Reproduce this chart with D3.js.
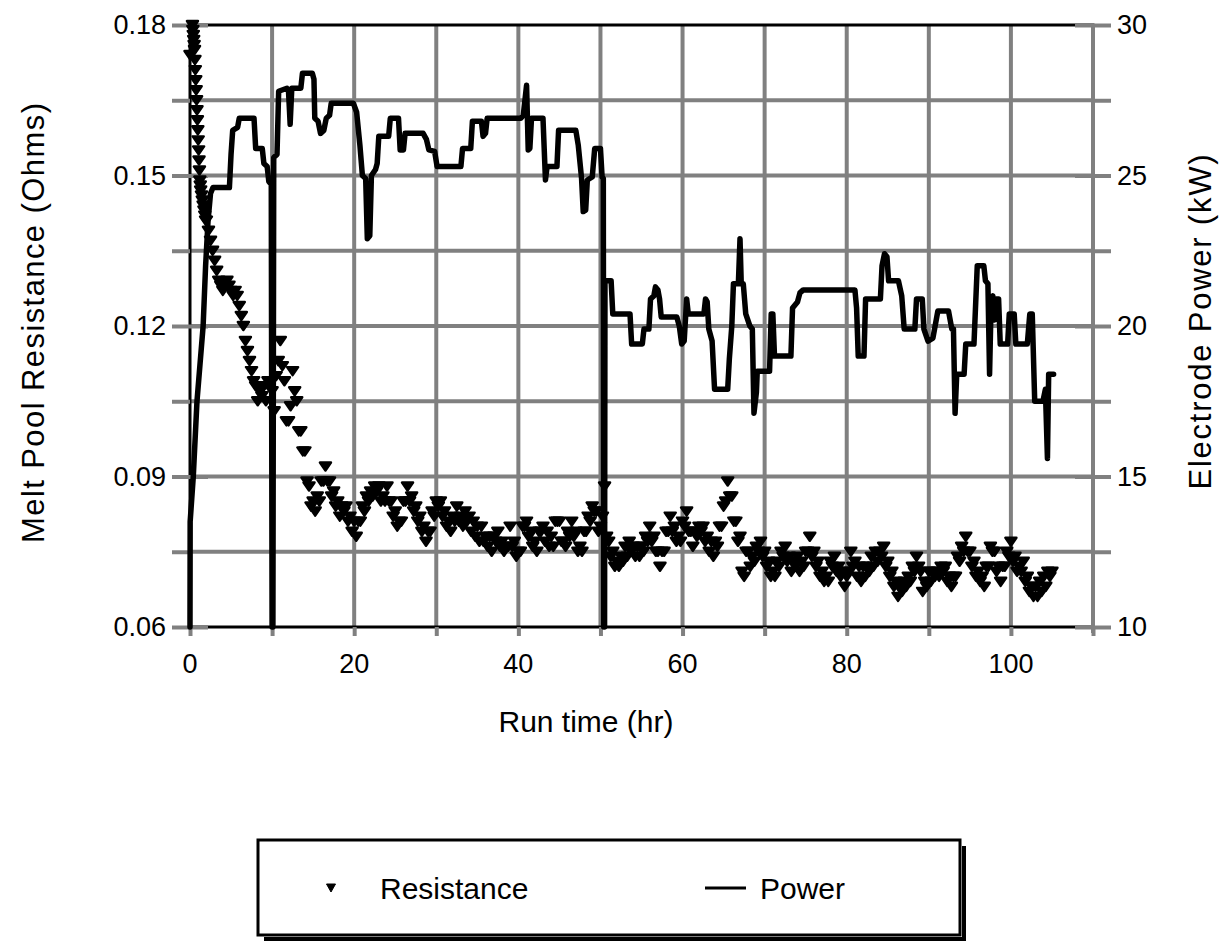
<!DOCTYPE html>
<html>
<head>
<meta charset="utf-8">
<script src="https://cdn.jsdelivr.net/npm/d3@7"></script>
<style>
  body { margin: 0; background: #fff; }
  svg text { font-family: "Liberation Sans", Arial, sans-serif; fill: #000; }
</style>
</head>
<body>
<svg id="chart" width="1229" height="941"></svg>
<script>
// ---- Melt pool resistance (Ohms) ----
// start-up readings, irregular times (hr)
const startupHours = [0, 0.3, 0.35, 0.4, 0.45, 0.5, 0.55, 0.6, 0.65, 0.7, 0.75, 0.8, 0.85, 0.9,
  0.95, 1.0, 1.05, 1.1, 1.15, 1.2, 1.25, 1.3, 1.4, 1.5, 1.6, 1.7, 1.8, 1.9];
const startupResistance = [0.174, 0.180, 0.179, 0.178, 0.177, 0.176, 0.175, 0.173, 0.171, 0.169,
  0.167, 0.165, 0.163, 0.161, 0.159, 0.157, 0.155, 0.153, 0.151, 0.149, 0.148, 0.147, 0.146,
  0.145, 0.144, 0.143, 0.142, 0.141];

// logged every 15 minutes from hour 2 onward (four readings per hour)
const resistanceStartHour = 2;
const resistanceStepHours = 0.25;
const resistance = [
  0.141, 0.139, 0.137, 0.135,  0.133, 0.131, 0.129, 0.128,  0.127, 0.128, 0.129, 0.128,   // 2-4
  0.127, 0.126, 0.127, 0.126,  0.124, 0.122, 0.120, 0.117,  0.115, 0.113, 0.111, 0.109,   // 5-7
  0.108, 0.105, 0.107, 0.106,  0.108, 0.105, 0.109, 0.109,  0.107, 0.103, 0.110, 0.113,   // 8-10
  0.117, 0.112, 0.109, 0.101,  0.101, 0.104, 0.111, 0.107,  0.105, 0.099, 0.099, 0.095,   // 11-13
  0.095, 0.089, 0.088, 0.084,  0.085, 0.083, 0.086, 0.085,  0.089, 0.089, 0.092, 0.089,   // 14-16
  0.089, 0.086, 0.087, 0.084,  0.085, 0.082, 0.084, 0.083,  0.084, 0.081, 0.082, 0.079,   // 17-19
  0.081, 0.078, 0.081, 0.081,  0.084, 0.083, 0.086, 0.085,  0.087, 0.086, 0.088, 0.087,   // 20-22
  0.088, 0.085, 0.086, 0.085,  0.088, 0.085, 0.085, 0.082,  0.083, 0.080, 0.081, 0.081,   // 23-25
  0.085, 0.085, 0.088, 0.085,  0.086, 0.083, 0.084, 0.081,  0.082, 0.079, 0.080, 0.077,   // 26-28
  0.079, 0.079, 0.083, 0.082,  0.085, 0.084, 0.085, 0.082,  0.083, 0.080, 0.081, 0.079,   // 29-31
  0.082, 0.081, 0.084, 0.081,  0.082, 0.080, 0.083, 0.081,  0.082, 0.079, 0.081, 0.078,   // 32-34
  0.080, 0.077, 0.080, 0.077,  0.078, 0.076, 0.078, 0.075,  0.078, 0.077, 0.079, 0.076,   // 35-37
  0.077, 0.075, 0.076, 0.076,  0.080, 0.076, 0.077, 0.074,  0.075, 0.075, 0.080, 0.080,   // 38-40
  0.081, 0.078, 0.079, 0.076,  0.077, 0.075, 0.079, 0.079,  0.080, 0.077, 0.079, 0.076,   // 41-43
  0.078, 0.076, 0.081, 0.081,  0.081, 0.077, 0.077, 0.076,  0.079, 0.078, 0.081, 0.078,   // 44-46
  0.079, 0.075, 0.076, 0.075,  0.079, 0.079, 0.082, 0.081,  0.084, 0.083, 0.083, 0.079,   // 47-49
  0.080, 0.082, 0.088, 0.078,  0.077, 0.074, 0.075, 0.072,  0.073, 0.072, 0.074, 0.073,   // 50-52
  0.076, 0.074, 0.077, 0.075,  0.076, 0.074, 0.076, 0.074,  0.076, 0.075, 0.078, 0.077,   // 53-55
  0.080, 0.077, 0.078, 0.075,  0.075, 0.072, 0.075, 0.075,  0.079, 0.079, 0.082, 0.079,   // 56-58
  0.080, 0.077, 0.078, 0.077,  0.081, 0.080, 0.083, 0.079,  0.079, 0.076, 0.079, 0.078,   // 59-61
  0.080, 0.079, 0.080, 0.077,  0.078, 0.075, 0.077, 0.074,  0.077, 0.076, 0.080, 0.080,   // 62-64
  0.084, 0.085, 0.089, 0.086,  0.086, 0.081, 0.081, 0.077,  0.078, 0.071, 0.070, 0.075,   // 65-67
  0.075, 0.072, 0.074, 0.073,  0.076, 0.075, 0.077, 0.074,  0.075, 0.072, 0.073, 0.070,   // 68-70
  0.071, 0.070, 0.073, 0.072,  0.075, 0.074, 0.076, 0.073,  0.074, 0.071, 0.073, 0.072,   // 71-73
  0.074, 0.071, 0.073, 0.072,  0.075, 0.075, 0.078, 0.074,  0.075, 0.072, 0.073, 0.070,   // 74-76
  0.071, 0.069, 0.070, 0.069,  0.073, 0.072, 0.074, 0.071,  0.072, 0.070, 0.071, 0.068,   // 77-79
  0.070, 0.071, 0.075, 0.072,  0.073, 0.070, 0.072, 0.069,  0.072, 0.070, 0.072, 0.071,   // 80-82
  0.074, 0.072, 0.075, 0.073,  0.075, 0.074, 0.076, 0.072,  0.073, 0.070, 0.071, 0.068,   // 83-85
  0.069, 0.066, 0.068, 0.067,  0.069, 0.068, 0.070, 0.069,  0.072, 0.071, 0.074, 0.072,   // 86-88
  0.071, 0.067, 0.069, 0.068,  0.071, 0.069, 0.071, 0.070,  0.071, 0.070, 0.072, 0.071,   // 89-91
  0.072, 0.069, 0.070, 0.068,  0.070, 0.070, 0.074, 0.073,  0.076, 0.075, 0.078, 0.075,   // 92-94
  0.075, 0.072, 0.073, 0.070,  0.071, 0.069, 0.070, 0.068,  0.072, 0.072, 0.076, 0.075,   // 95-97
  0.075, 0.071, 0.072, 0.069,  0.072, 0.072, 0.075, 0.074,  0.077, 0.073, 0.074, 0.071,   // 98-100
  0.072, 0.071, 0.073, 0.069,  0.070, 0.067, 0.068, 0.066,  0.068, 0.066, 0.069, 0.067,   // 101-103
  0.070, 0.068, 0.071, 0.070,  0.071                                                      // 104-105
];

// ---- Electrode power (kW): [run time hr, kW] ----
const power = [
  [0, 10], [0.02, 13.5], [0.4, 15.0], [0.85, 17.5], [1.6, 20.0], [1.9, 22.0], [2.2, 23.5],
  [2.5, 24.4], [2.8, 24.6], [4.8, 24.6], [5.0, 25.7], [5.2, 26.5], [5.8, 26.6], [6.0, 26.9],
  [7.8, 26.9], [8.0, 25.9], [8.8, 25.9], [9.0, 25.4], [9.4, 25.3], [9.6, 24.8], [9.9, 24.7],
  [10.0, 10], [10.1, 10], [10.2, 25.6], [10.6, 25.7], [10.8, 27.8], [11.8, 27.9], [12.0, 27.8],
  [12.2, 26.7], [12.4, 27.9], [13.5, 27.9], [13.7, 28.4], [14.9, 28.4], [15.1, 28.2],
  [15.2, 26.9], [15.6, 26.8], [15.9, 26.4], [16.3, 26.5], [16.6, 26.9], [17.0, 27.0],
  [17.2, 27.4], [19.9, 27.4], [20.3, 27.1], [20.7, 26.0], [21.0, 25.0], [21.4, 24.9],
  [21.6, 22.9], [21.9, 23.0], [22.1, 25.0], [22.6, 25.2], [22.8, 25.4], [23.0, 26.3],
  [24.2, 26.3], [24.4, 26.9], [25.4, 26.9], [25.6, 25.85], [26.0, 25.85], [26.2, 26.4],
  [28.4, 26.4], [28.8, 26.2], [29.1, 25.85], [29.8, 25.8], [30.1, 25.3], [33.0, 25.3],
  [33.2, 25.9], [34.2, 25.9], [34.4, 26.8], [35.5, 26.8], [35.7, 26.3], [36.0, 26.4],
  [36.2, 26.9], [40.3, 26.9], [40.6, 27.0], [41.0, 28.0], [41.2, 25.85], [41.4, 25.9],
  [41.6, 26.9], [43.0, 26.9], [43.3, 24.85], [43.5, 25.3], [44.7, 25.3], [44.9, 26.5],
  [47.0, 26.5], [47.3, 26.0], [47.7, 24.9], [47.9, 23.8], [48.2, 23.85], [48.4, 24.85],
  [49.0, 24.95], [49.3, 25.9], [50.0, 25.9], [50.2, 24.95], [50.35, 24.9], [50.4, 10],
  [50.5, 10], [50.55, 21.5], [51.3, 21.5], [51.5, 20.4], [53.6, 20.4], [53.8, 19.4],
  [55.1, 19.4], [55.3, 19.9], [55.9, 19.9], [56.1, 20.9], [56.5, 21.0], [56.7, 21.3],
  [57.0, 21.2], [57.2, 20.9], [57.4, 20.3], [59.3, 20.3], [59.6, 20.0], [59.9, 19.4],
  [60.2, 19.5], [60.5, 20.9], [60.7, 20.4], [62.6, 20.4], [62.8, 20.9], [63.0, 20.8],
  [63.2, 19.9], [63.6, 19.5], [63.9, 17.9], [65.5, 17.9], [65.7, 18.9], [66.0, 20.0],
  [66.2, 21.4], [66.8, 21.4], [67.0, 22.9], [67.15, 21.4], [67.4, 21.4], [67.7, 20.4],
  [68.2, 20.0], [68.5, 19.9], [68.7, 17.1], [69.0, 17.8], [69.1, 18.5], [70.6, 18.5],
  [70.8, 20.4], [71.0, 20.4], [71.2, 19.0], [73.2, 19.0], [73.4, 20.6], [74.0, 20.8],
  [74.3, 21.1], [74.7, 21.2], [81.0, 21.2], [81.2, 20.6], [81.4, 19.0], [82.1, 19.0],
  [82.3, 20.9], [84.1, 20.9], [84.3, 22.0], [84.6, 22.4], [84.9, 22.3], [85.1, 21.5],
  [86.3, 21.5], [86.7, 21.0], [87.0, 19.9], [88.3, 19.9], [88.5, 20.9], [89.2, 20.9],
  [89.4, 19.9], [89.9, 19.5], [90.5, 19.6], [90.7, 19.9], [91.1, 20.5], [92.4, 20.5],
  [92.8, 19.9], [93.0, 19.9], [93.2, 17.1], [93.4, 18.4], [94.3, 18.4], [94.5, 19.4],
  [95.5, 19.4], [95.9, 22.0], [96.7, 22.0], [96.9, 21.5], [97.2, 21.4], [97.4, 18.4],
  [97.6, 20.9], [97.8, 21.0], [98.0, 20.2], [98.2, 20.9], [98.5, 20.9], [98.7, 19.4],
  [99.6, 19.4], [99.8, 20.4], [100.4, 20.4], [100.6, 19.4], [102.0, 19.4], [102.3, 20.4],
  [102.6, 20.4], [102.9, 17.5], [103.9, 17.5], [104.2, 17.9], [104.45, 15.6], [104.6, 18.4],
  [105.2, 18.4]
];

// ---- axes ----
const xDomain = [0, 110];
const resDomain = [0.06, 0.18];
const powDomain = [10, 30];
const xTickLabels = [0, 20, 40, 60, 80, 100];
const resTickLabels = [0.06, 0.09, 0.12, 0.15, 0.18];
const powTickLabels = [10, 15, 20, 25, 30];
const xGrid = [10, 20, 30, 40, 50, 60, 70, 80, 90, 100];
const resGrid = [0.075, 0.09, 0.105, 0.12, 0.135, 0.15, 0.165];

const plotLeft = 190, plotRight = 1093, plotTop = 25, plotBottom = 627;
const svg = d3.select("#chart");
const x = d3.scaleLinear(xDomain, [plotLeft, plotRight]);
const yRes = d3.scaleLinear(resDomain, [plotBottom, plotTop]);
const yPow = d3.scaleLinear(powDomain, [plotBottom, plotTop]);

const grey = "#808080";
const tickFont = 27;
const titleFont = 31;

// grid
const grid = svg.append("g").attr("stroke", grey).attr("stroke-width", 4);
grid.selectAll("line.v").data(xGrid).join("line").attr("class", "v")
  .attr("x1", d => x(d)).attr("x2", d => x(d)).attr("y1", plotTop).attr("y2", plotBottom);
grid.selectAll("line.h").data(resGrid).join("line").attr("class", "h")
  .attr("y1", d => yRes(d)).attr("y2", d => yRes(d)).attr("x1", plotLeft).attr("x2", plotRight);

// plot frame
svg.append("rect").attr("x", plotLeft).attr("y", plotTop)
  .attr("width", plotRight - plotLeft).attr("height", plotBottom - plotTop)
  .attr("fill", "none").attr("stroke", "#000").attr("stroke-width", 3);

// axis tick marks: outside ticks at every gridline, cross ticks at labelled values
const resTicks = [0.06, 0.075, 0.09, 0.105, 0.12, 0.135, 0.15, 0.165, 0.18];
const powTicks = [10, 12.5, 15, 17.5, 20, 22.5, 25, 27.5, 30];
const xTicks = [0, 10, 20, 30, 40, 50, 60, 70, 80, 90, 100, 110];
function styleAxis(g) {
  g.select(".domain").remove();
  g.selectAll(".tick line").attr("stroke", grey).attr("stroke-width", 4);
  g.selectAll(".tick text").remove();
}
svg.append("g").attr("transform", `translate(${plotLeft},0)`)
  .call(d3.axisLeft(yRes).tickValues(resTicks).tickSize(18)).call(styleAxis);
svg.append("g").attr("transform", `translate(${plotLeft},0)`)
  .call(d3.axisRight(yRes).tickValues(resTickLabels).tickSize(18)).call(styleAxis);
svg.append("line").attr("x1", plotRight).attr("x2", plotRight).attr("y1", plotTop).attr("y2", plotBottom + 6)
  .attr("stroke", grey).attr("stroke-width", 4);
svg.append("g").attr("transform", `translate(${plotRight},0)`)
  .call(d3.axisRight(yPow).tickValues(powTicks).tickSize(18)).call(styleAxis);
svg.append("g").attr("transform", `translate(${plotRight},0)`)
  .call(d3.axisLeft(yPow).tickValues(powTickLabels).tickSize(18)).call(styleAxis);
svg.append("g").attr("transform", `translate(0,${plotBottom})`)
  .call(d3.axisBottom(x).tickValues(xTicks).tickSize(9)).call(styleAxis);

// tick labels
svg.append("g").selectAll("text").data(resTickLabels).join("text")
  .attr("x", plotLeft - 24).attr("y", d => yRes(d)).attr("dy", "0.35em")
  .attr("text-anchor", "end").attr("font-size", tickFont)
  .text(d => d3.format(".2f")(d));
svg.append("g").selectAll("text").data(powTickLabels).join("text")
  .attr("x", plotRight + 24).attr("y", d => yPow(d)).attr("dy", "0.35em")
  .attr("text-anchor", "start").attr("font-size", tickFont)
  .text(d => d);
svg.append("g").selectAll("text").data(xTickLabels).join("text")
  .attr("x", d => x(d)).attr("y", 673)
  .attr("text-anchor", "middle").attr("font-size", tickFont)
  .text(d => d);

// axis titles
svg.append("text").attr("x", 586).attr("y", 732).attr("text-anchor", "middle")
  .attr("font-size", 30).text("Run time (hr)");
svg.append("text").attr("transform", "translate(44,323) rotate(-90)")
  .attr("text-anchor", "middle").attr("font-size", titleFont)
  .attr("textLength", 440).attr("lengthAdjust", "spacing")
  .text("Melt Pool Resistance (Ohms)");
svg.append("text").attr("transform", "translate(1211,322) rotate(-90)")
  .attr("text-anchor", "middle").attr("font-size", titleFont)
  .attr("textLength", 335).attr("lengthAdjust", "spacing")
  .text("Electrode Power (kW)");

// power trace
svg.append("path").datum(power)
  .attr("d", d3.line().x(d => x(d[0])).y(d => yPow(d[1])))
  .attr("fill", "none").attr("stroke", "#000").attr("stroke-width", 5.5)
  .attr("stroke-linejoin", "round").attr("stroke-linecap", "round");

// resistance markers (downward triangles, heavy outline so dense runs merge)
const resPoints = startupHours.map((t, i) => [t, startupResistance[i]])
  .concat(resistance.map((v, i) => [resistanceStartHour + i * resistanceStepHours, v]));
const tri = "M-5.5,-4L5.5,-4L0,4Z";
svg.append("g").selectAll("path").data(resPoints).join("path")
  .attr("transform", d => `translate(${x(d[0])},${yRes(d[1])})`)
  .attr("d", tri).attr("fill", "#000").attr("stroke", "#000").attr("stroke-width", 2.5)
  .attr("stroke-linejoin", "round");

// legend
const lg = svg.append("g");
lg.append("path").attr("d", "M264,939H964V846").attr("fill", "none")
  .attr("stroke", "#000").attr("stroke-width", 4);
lg.append("rect").attr("x", 258).attr("y", 840).attr("width", 702).attr("height", 95)
  .attr("fill", "#fff").attr("stroke", "#000").attr("stroke-width", 3);
lg.append("path").attr("d", "M-4.5,-4L4.5,-4L0,4Z").attr("transform", "translate(331,888)")
  .attr("fill", "#000").attr("stroke", "#000").attr("stroke-width", 1);
lg.append("text").attr("x", 380).attr("y", 888).attr("dy", "0.35em")
  .attr("font-size", 30).text("Resistance");
lg.append("line").attr("x1", 705).attr("x2", 746).attr("y1", 888).attr("y2", 888)
  .attr("stroke", "#000").attr("stroke-width", 3);
lg.append("text").attr("x", 760).attr("y", 888).attr("dy", "0.35em")
  .attr("font-size", 30).text("Power");
</script>
</body>
</html>
